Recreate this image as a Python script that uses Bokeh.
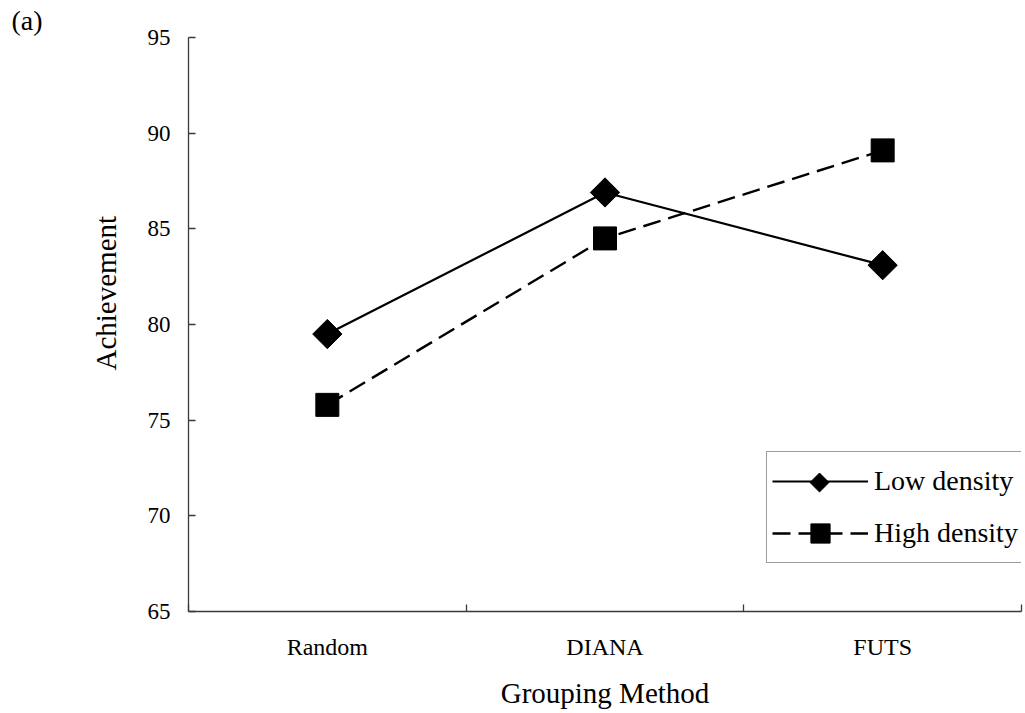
import numpy as np
from bokeh.plotting import figure
from bokeh.models import FixedTicker, Range1d, Legend, LegendItem, Title
from bokeh.embed import file_html
from bokeh.resources import INLINE

# Mean achievement per grouping method, for the two density conditions
methods = ["Random", "DIANA", "FUTS"]
low_density = [79.5, 86.9, 83.1]
high_density = [75.8, 84.5, 89.1]
y_ticks = [65, 70, 75, 80, 85, 90, 95]

FONT = "Liberation Serif"
AXIS_COLOR = "#3a3a3a"

W, H = 1025, 713
BORDER_L, BORDER_R, BORDER_T, BORDER_B = 188, 4, 37, 102
FRAME_L, FRAME_R = BORDER_L, W - BORDER_R
FRAME_T, FRAME_B = BORDER_T, H - BORDER_B

X0, X1 = 0, len(methods)
Y0, Y1 = y_ticks[0], y_ticks[-1]


def px_to_x(px):
    return X0 + (px - FRAME_L) * (X1 - X0) / (FRAME_R - FRAME_L)


def py_to_y(py):
    return Y0 + (FRAME_B - py) * (Y1 - Y0) / (FRAME_B - FRAME_T)


# categories sit in the middle of unit-wide slots
xs = [i + 0.5 for i in range(len(methods))]

p = figure(width=W, height=H, output_backend="svg", toolbar_location=None,
           x_range=Range1d(X0, X1), y_range=Range1d(Y0, Y1),
           min_border_left=BORDER_L, min_border_right=BORDER_R,
           min_border_top=BORDER_T, min_border_bottom=BORDER_B)
p.outline_line_color = None
p.grid.visible = False
p.background_fill_color = "white"

# panel tag in the top-left corner
p.title.text = "(a)"
p.title.align = "left"
p.title.offset = -(FRAME_L - 11)
p.title.standoff = 4
p.title.text_font = FONT
p.title.text_font_size = "28px"
p.title.text_font_style = "normal"
p.title.text_color = "black"

# y axis: ticks pointing inward
ya = p.yaxis[0]
ya.ticker = FixedTicker(ticks=y_ticks)
ya.major_tick_in = 7
ya.major_tick_out = 0
ya.major_label_standoff = 18

# x axis: labels at slot centres, separator ticks between slots
xa = p.xaxis[0]
xa.ticker = FixedTicker(ticks=xs, minor_ticks=list(range(len(methods) + 1)))
xa.major_label_overrides = {x: m for x, m in zip(xs, methods)}
xa.major_tick_in = 0
xa.major_tick_out = 0
xa.minor_tick_in = 7
xa.minor_tick_out = 0
xa.major_label_standoff = 22
xa.axis_label = "Grouping Method"
xa.axis_label_standoff = 14

for ax in (xa, ya):
    ax.axis_line_color = AXIS_COLOR
    ax.axis_line_width = 1.3
    ax.major_tick_line_color = AXIS_COLOR
    ax.minor_tick_line_color = AXIS_COLOR if ax is xa else None
    ax.major_tick_line_width = 1.3
    ax.minor_tick_line_width = 1.3
    ax.major_label_text_font = FONT
    ax.major_label_text_font_size = "24px"
    ax.major_label_text_color = "black"
    ax.axis_label_text_font = FONT
    ax.axis_label_text_font_size = "29px"
    ax.axis_label_text_font_style = "normal"
    ax.axis_label_text_color = "black"
ya.major_label_text_font_size = "23px"

# y axis title, starting 241px above the frame bottom
p.add_layout(Title(text="Achievement", align="left", offset=241, standoff=46,
                   text_font=FONT, text_font_size="29px",
                   text_font_style="normal", text_color="black"), "left")

# series
l1 = p.line(xs, low_density, line_color="black", line_width=2.2)
m1 = p.scatter(xs, low_density, marker="square", angle=np.pi / 4, size=20.7,
               fill_color="black", line_color="black")
l2 = p.line(xs, high_density, line_color="black", line_width=2.4, line_dash="18 8")
m2 = p.scatter(xs, high_density, marker="square", size=23,
               fill_color="black", line_color="black")

# legend box with a clear fill, so the key drawn below it stays visible
LEG_PAD, LEG_GW, LEG_GH, LEG_SP = 5, 96, 48, 4
LEG_X, LEG_Y = 578, 48
legend = Legend(items=[LegendItem(label="Low density", renderers=[l1]),
                       LegendItem(label="High density", renderers=[l2, m2])],
                location=(LEG_X, LEG_Y), glyph_width=LEG_GW, glyph_height=LEG_GH,
                label_standoff=6, padding=LEG_PAD, spacing=LEG_SP, margin=0,
                border_line_color=AXIS_COLOR, border_line_width=1.3,
                label_text_font=FONT, label_text_font_size="28px",
                label_text_color="black", background_fill_alpha=0.0)
p.add_layout(legend)

# rotated-square key for the first legend row
leg_h = 2 * LEG_PAD + 2 * LEG_GH + LEG_SP
key_cx = FRAME_L + LEG_X + LEG_PAD + LEG_GW / 2
key_cy = FRAME_B - LEG_Y - leg_h + LEG_PAD + LEG_GH / 2
p.scatter([px_to_x(key_cx)], [py_to_y(key_cy)], marker="square",
          angle=np.pi / 4, size=13.4, fill_color="black", line_color="black")

open("out.html", "w").write(file_html(p, INLINE))
